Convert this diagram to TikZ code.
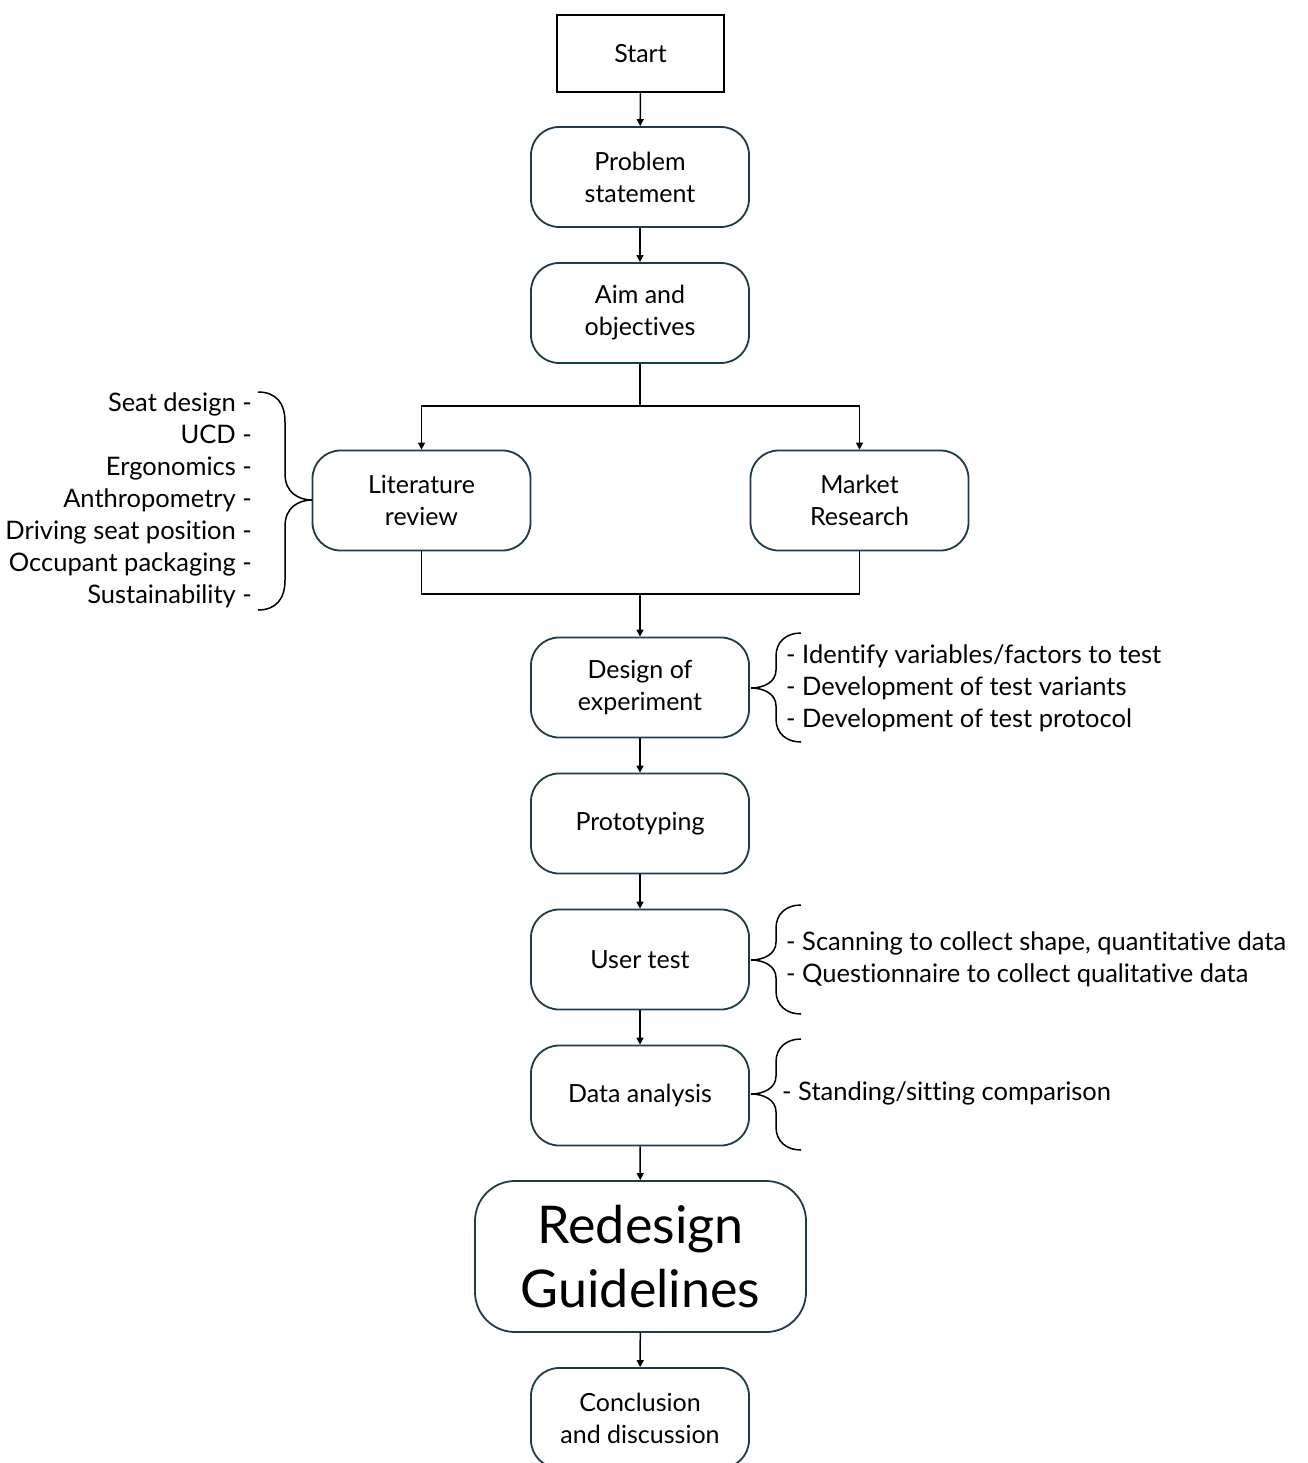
\documentclass[tikz,border=0pt]{standalone}
\usepackage{fontspec}
\setmainfont{Lato}[Ligatures={NoCommon}]
\usetikzlibrary{arrows.meta}
\definecolor{boxline}{HTML}{1E3A4C}
\newcommand{\stdfont}{\fontsize{25}{32}\selectfont}
\newcommand{\notefont}{\fontsize{25.5}{32}\selectfont}
\newcommand{\bigfont}{\fontsize{52}{64}\selectfont}
\begin{document}
\begin{tikzpicture}[x=1pt,y=-1pt,
  stage/.style={draw=boxline, line width=1.8pt, rounded corners=28pt, minimum width=218pt, minimum height=100pt, align=center, font=\stdfont, inner sep=0pt},
  arr/.style={line width=1.5pt, -{Triangle[length=7pt,width=7pt]}},
  link/.style={line width=1.5pt},
  bracepath/.style={line width=1.5pt},
  note/.style={font=\notefont, inner sep=0pt}
]
\useasboundingbox[fill=white] (0,0) rectangle (1307,1463);
\begin{scope}
\clip (0,0) rectangle (1307,1463);
\node[draw, line width=1.8pt, minimum width=167pt, minimum height=77pt, font=\stdfont, inner sep=0pt] (start) at (640.5,53.5) {Start};
\node[stage] (prob) at (640,177) {Problem\\statement};
\node[stage] (aim) at (640,313) {Aim and\\objectives};
\node[stage] (lit) at (421.5,500.5) {Literature\\review};
\node[stage] (mkt) at (859.5,500.5) {Market\\Research};
\node[stage] (doe) at (640,687.5) {Design of\\experiment};
\node[stage] (proto) at (640,823.5) {Prototyping};
\node[stage] (user) at (640,959.5) {User test};
\node[stage] (data) at (640,1095.5) {Data analysis};
\node[stage, minimum width=331pt, minimum height=151pt, font=\bigfont, rounded corners=40pt] (redesign) at (640.5,1256.5) {Redesign\\Guidelines};
\node[stage] (concl) at (640,1418) {Conclusion\\and discussion};

\coordinate (split) at (640,406);
\coordinate (join) at (640,594);
\draw[arr] (start) -- (prob);
\draw[arr] (prob) -- (aim);
\draw[link] (aim) -- (split);
\draw[arr] (split) -| (lit);
\draw[arr] (split) -| (mkt);
\draw[link] (lit) |- (join);
\draw[link] (mkt) |- (join);
\draw[arr] (join) -- (doe);
\draw[arr] (doe) -- (proto);
\draw[arr] (proto) -- (user);
\draw[arr] (user) -- (data);
\draw[arr] (data) -- (redesign);
\draw[arr] (redesign) -- (concl);

% left labels and brace
\node[note, anchor=east, align=right] (litnotes) at (252,500) {Seat design -\\UCD -\\Ergonomics -\\Anthropometry -\\Driving seat position -\\Occupant packaging -\\Sustainability -};
\draw[bracepath] (258,392) .. controls (276,392) and (285,403) .. (285,422) -- (285,474) .. controls (285,492) and (298,500) .. (312,500) .. controls (298,500) and (285,508) .. (285,526) -- (285,580) .. controls (285,599) and (276,610) .. (258,610);

% right braces
\draw[bracepath] (801,633) .. controls (786,633) and (776,642) .. (776,656) -- (776,670) .. controls (776,682) and (764,688) .. (751,688) .. controls (764,688) and (776,694) .. (776,706) -- (776,719) .. controls (776,733) and (786,742) .. (801,742);
\node[note, anchor=west, align=left] (doenotes) at (786,688) {- Identify variables/factors to test\\- Development of test variants\\- Development of test protocol};

\draw[bracepath] (801,905) .. controls (786,905) and (776,914) .. (776,928) -- (776,942) .. controls (776,954) and (764,960) .. (751,960) .. controls (764,960) and (776,966) .. (776,978) -- (776,991) .. controls (776,1005) and (786,1014) .. (801,1014);
\node[note, anchor=west, align=left] (usernotes) at (786,959) {- Scanning to collect shape, quantitative data\\- Questionnaire to collect qualitative data};

\draw[bracepath] (801,1039) .. controls (786,1039) and (776,1048) .. (776,1062) -- (776,1076) .. controls (776,1088) and (764,1094) .. (751,1094) .. controls (764,1094) and (776,1100) .. (776,1112) -- (776,1127) .. controls (776,1141) and (786,1150) .. (801,1150);
\node[note, anchor=west] (datanotes) at (782,1093) {- Standing/sitting comparison};
\end{scope}
\end{tikzpicture}
\end{document}
